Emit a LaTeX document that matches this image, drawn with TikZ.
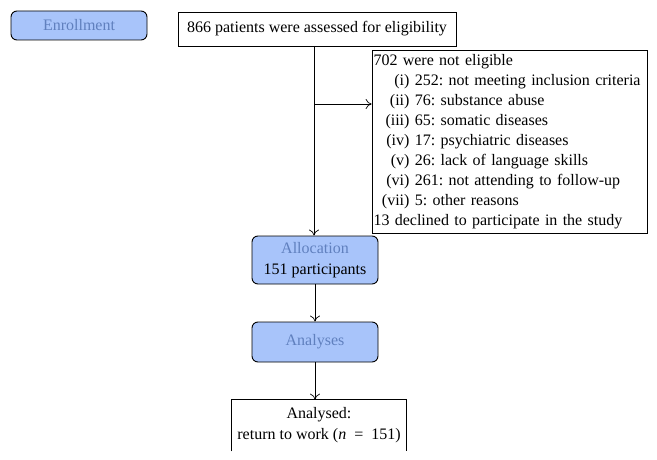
\documentclass[tikz,border=0pt]{standalone}
\usepackage{fontspec}
\setmainfont{Liberation Serif}
\usetikzlibrary{positioning, arrows.meta}
\definecolor{stagefill}{RGB}{168,196,250}
\definecolor{stagetext}{RGB}{96,128,190}
\newcommand{\reason}[1]{\hspace*{6pt}\makebox[30pt][r]{#1}\ }
\frenchspacing
\tikzset{
    stage/.style={draw, line width=0.9pt, rounded corners=6pt, fill=stagefill, align=center, font=\fontsize{16}{21}\selectfont},
    info/.style={draw, line width=0.7pt, align=center, font=\fontsize{16}{21}\selectfont, inner sep=0pt},
    flow/.style={line width=0.7pt, -{To[length=6pt, width=10pt]}},
}
\begin{document}
\begin{tikzpicture}[x=1pt, y=1pt]
    \useasboundingbox (0,0) rectangle (657,459);
    \node (enrol) [stage, minimum width=136pt, minimum height=29pt] at (79,433.5) {\color{stagetext}Enrollment};
    \node (assess) [info, minimum width=278pt, minimum height=34pt] at (317,430) {866 patients were assessed for eligibility};
    \node (excl) [info, minimum height=183pt, align=left, text width=272pt, inner xsep=1.5pt, font=\fontsize{16}{20}\selectfont] at (509.5,317.5) {%
        702 were not eligible\\
        \reason{(i)}252: not meeting inclusion criteria\\
        \reason{(ii)}76: substance abuse\\
        \reason{(iii)}65: somatic diseases\\
        \reason{(iv)}17: psychiatric diseases\\
        \reason{(v)}26: lack of language skills\\
        \reason{(vi)}261: not attending to follow-up\\
        \reason{(vii)}5: other reasons\\
        13 declined to participate in the study};
    \node (alloc) [stage, minimum width=126pt, minimum height=48pt] at (315,199) {\color{stagetext}Allocation\\151 participants};
    \node (analyses) [stage, minimum width=126pt, minimum height=40pt] at (315,117) {\color{stagetext}Analyses};
    \node (result) [info, draw=none, minimum width=174pt, minimum height=51pt] at (319,33.5) {Analysed:\\return to work (\textit{n}\hspace{0.5em}=\hspace{0.5em}151)};
    \draw [line width=0.7pt] (result.south west) -- (result.north west) -- (result.north east) -- (result.south east);
    % main flow
    \coordinate (top) at (314,413);
    \coordinate (split) at (314,355);
    \draw [flow] (top) -- (top |- alloc.north);
    \draw [flow] (split) -- (excl.west |- split);
    \draw [flow] (alloc) -- (analyses);
    \draw [flow] (analyses.south) -- (analyses.south |- result.north);
\end{tikzpicture}
\end{document}
